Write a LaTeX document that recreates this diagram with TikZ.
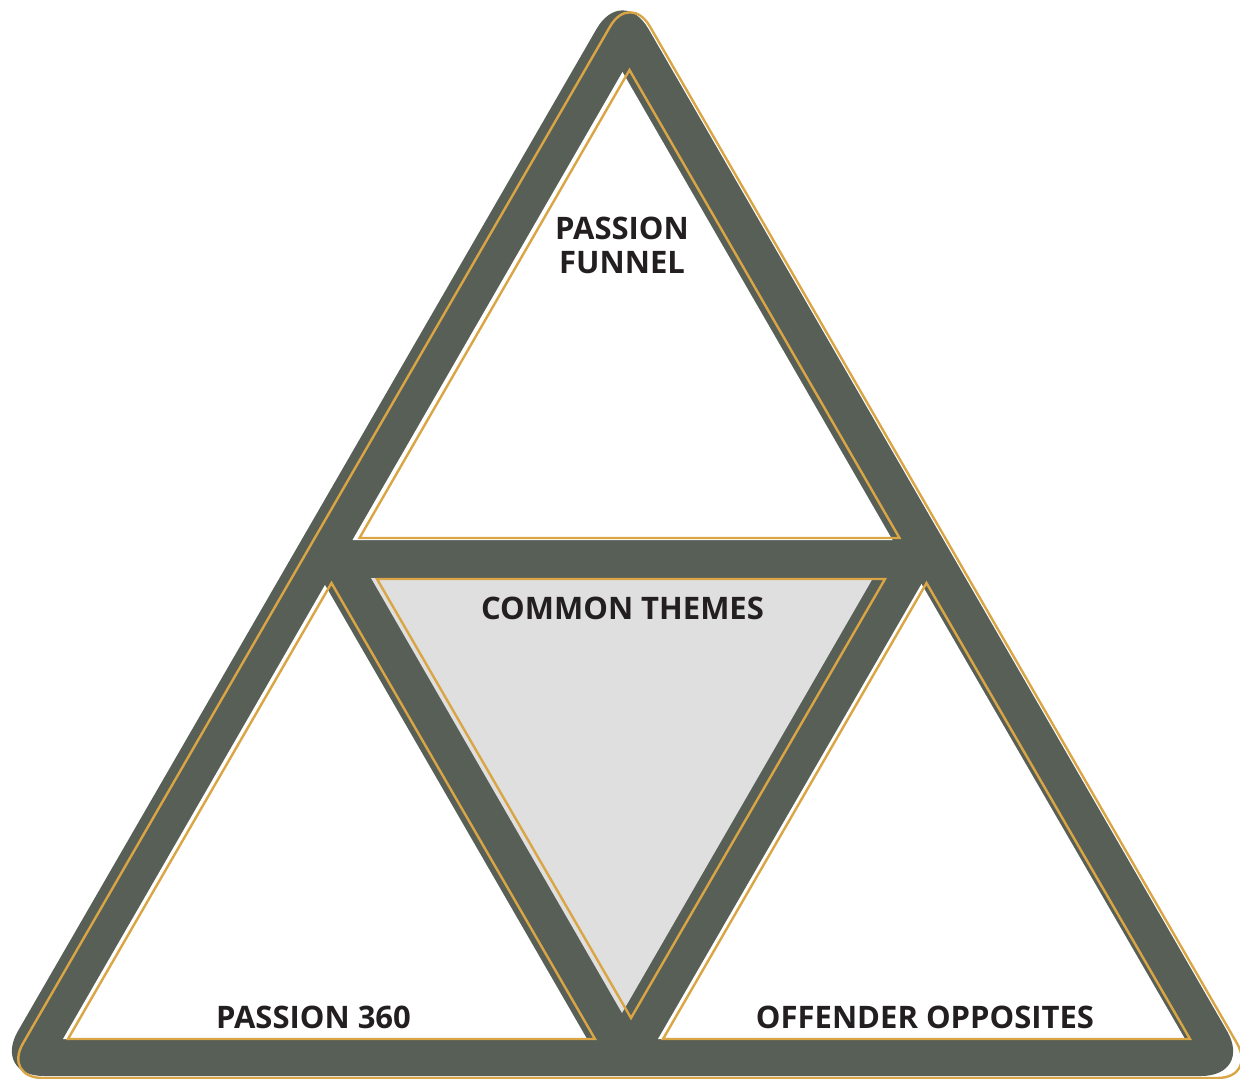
\documentclass[tikz,border=0pt]{standalone}
\usepackage{fontspec}
\setmainfont{Open Sans}
\definecolor{band}{RGB}{87,95,87}
\definecolor{goldline}{RGB}{218,165,68}
\definecolor{centergray}{RGB}{223,223,223}
\definecolor{labeltext}{RGB}{35,31,32}
\begin{document}
\begin{tikzpicture}[x=1pt,y=-1pt,
  goldstroke/.style={draw=goldline, line width=2.4pt, line join=miter},
  label/.style={text=labeltext, inner sep=0pt, anchor=base, font=\bfseries\fontsize{31}{37}\selectfont}]
\useasboundingbox (0,0) rectangle (1240,1079);
% dark band
\fill[band, rounded corners=52pt] (622.5,1076) -- (1253,1076) -- (622.5,-16) -- (-8,1076) -- cycle;
% inner triangles
\fill[white] (622.5,72) -- (892.5,540) -- (352.5,540) -- cycle;
\fill[white] (325,585) -- (587,1039) -- (63,1039) -- cycle;
\fill[white] (921.5,584) -- (1185,1039) -- (658,1039) -- cycle;
\fill[centergray] (371,578) -- (873,578) -- (622,1013) -- cycle;
% gold outlines
\draw[goldstroke, rounded corners=40pt] (630,1078) -- (1257,1078) -- (630,-8) -- (3,1078) -- cycle;
\draw[goldstroke] (629.5,70) -- (899.5,538) -- (359.5,538) -- cycle;
\draw[goldstroke] (377,579) -- (885,579) -- (631,1018) -- cycle;
\draw[goldstroke] (331.5,583) -- (595,1039) -- (68,1039) -- cycle;
\draw[goldstroke] (926.5,583) -- (1190,1039) -- (663,1039) -- cycle;
% labels
\node[label] (funnel1) at (622,239) {PASSION};
\node[label] (funnel2) at (622,273) {FUNNEL};
\node[label] (themes) at (622.5,619) {COMMON THEMES};
\node[label] (p360) at (313.5,1028) {PASSION 360};
\node[label] (offender) at (925,1028) {OFFENDER OPPOSITES};
\end{tikzpicture}
\end{document}
